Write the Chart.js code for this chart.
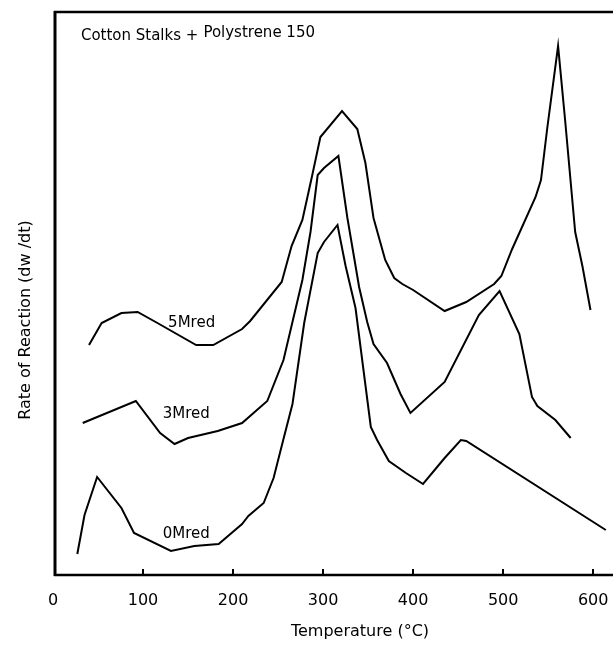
<!DOCTYPE html>
<html><head><meta charset="utf-8">
<script src="https://cdn.jsdelivr.net/npm/chart.js@4.4.1/dist/chart.umd.min.js"></script>
<style>html,body{margin:0;padding:0;background:#fff;}#wrap{width:613px;height:657px;}</style>
</head><body><div id="wrap"><canvas id="c" width="613" height="657"></canvas></div>
<script>
// Temperature (°C) and rate of reaction (arbitrary units)
const temp5 = [40,54,76,94,116,159,178,210,219,254,265,277,288,297,321,338,347,356,369,379,388,400,435,459,490,498,510,536,542,549,561,569,580,588,597];
const rate5 = [230,252,262,263,252,230,230,246,254,293,329,355,400,438,464,446,412,357,315,297,291,285,264,273,291,299,326,378,395,447,529,453,343,309,265];
const temp3 = [33,92,119,135,150,183,210,238,256,277,286,294,301,317,327,340,349,356,371,386,397,435,473,496,518,532,538,558,575];
const rate3 = [152,174,142,131,137,144,152,174,215,295,343,400,407,419,357,288,253,231,212,181,162,193,260,284,241,178,169,155,137];
const temp0 = [27,35,49,76,90,131,157,184,210,217,234,245,256,266,279,294,301,316,325,336,353,360,373,392,411,435,453,459,614];
const rate0 = [21,60,98,67,42,24,29,31,51,59,72,97,136,171,252,322,333,350,309,267,148,135,114,102,91,117,135,134,45];
const xTicks = [0,100,200,300,400,500,600];
const seriesLabels = ['5Mred','3Mred','0Mred'];
const labelTemp = [154,148,148];
const labelRate = [252,161,41];
const noteParts = ['Cotton Stalks +','Polystrene 150'];
const noteTemp = 31, noteRate = 535;
const xTitle = 'Temperature (\u00B0C)';
const yTitle = 'Rate of Reaction (dw /dt)';

const FONT = '"DejaVu Sans", "Liberation Sans", sans-serif';
function pts(t, r){ return t.map((v,i)=>({x:v, y:r[i]})); }

const deco = {
  id:'deco',
  afterDraw(chart){
    const ctx = chart.ctx, a = chart.chartArea, xs = chart.scales.x, ys = chart.scales.y;
    ctx.save();
    ctx.strokeStyle = '#000'; ctx.lineCap = 'butt';
    const ln = (x1,y1,x2,y2)=>{ctx.beginPath();ctx.moveTo(x1,y1);ctx.lineTo(x2,y2);ctx.stroke();};
    ctx.lineWidth = 3; ln(a.left+2, a.top-1, a.left+2, a.bottom+1);
    ctx.lineWidth = 2.5; ln(a.left+1, a.top, a.right, a.top);
    ln(a.left+1, a.bottom, a.right, a.bottom);
    ctx.lineWidth = 2;
    xTicks.forEach(v=>{ if(v===0) return; const px = Math.round(xs.getPixelForValue(v)); ln(px, a.bottom, px, a.bottom-6); });
    ctx.fillStyle = '#000';
    ctx.font = '15px ' + FONT;
    ctx.textAlign = 'center'; ctx.textBaseline = 'middle';
    seriesLabels.forEach((s,i)=>ctx.fillText(s, xs.getPixelForValue(labelTemp[i]), ys.getPixelForValue(labelRate[i])));
    ctx.textAlign = 'left'; ctx.textBaseline = 'alphabetic';
    const nx = xs.getPixelForValue(noteTemp), ny = ys.getPixelForValue(noteRate);
    ctx.fillText(noteParts[0], nx, ny);
    const w = ctx.measureText(noteParts[0]).width;
    ctx.fillText(noteParts[1], nx + w + 5, ny - 3);
    ctx.font = '16px ' + FONT;
    ctx.textAlign = 'center'; ctx.textBaseline = 'middle';
    ctx.fillText(xTitle, 360, 632);
    ctx.translate(26, 320); ctx.rotate(-Math.PI/2);
    ctx.fillText(yTitle, 0, 0);
    ctx.restore();
  }
};

const ds = (t,r)=>({data: pts(t,r), borderColor:'#000', borderWidth:2, pointRadius:0, tension:0, fill:false});

new Chart(document.getElementById('c'), {
  type:'line',
  data:{ datasets:[ ds(temp5,rate5), ds(temp3,rate3), ds(temp0,rate0) ] },
  options:{
    responsive:false, animation:false, devicePixelRatio:1,
    layout:{ autoPadding:false, padding:{left:53, right:0, top:12, bottom:0} },
    plugins:{ legend:{display:false}, tooltip:{enabled:false} },
    scales:{
      x:{ type:'linear', min:0, max:622,
        afterBuildTicks(s){ s.ticks = xTicks.map(v=>({value:v})); },
        afterFit(s){ s.height = 82; s.paddingLeft = 0; s.paddingRight = 0; s.paddingTop = 0; s.paddingBottom = 0; },
        grid:{display:false}, border:{display:false},
        ticks:{ color:'#000', padding:8, font:{size:16, family:FONT}, maxRotation:0, autoSkip:false }
      },
      y:{ type:'linear', min:0, max:563, display:false }
    }
  },
  plugins:[deco]
});
</script></body></html>
